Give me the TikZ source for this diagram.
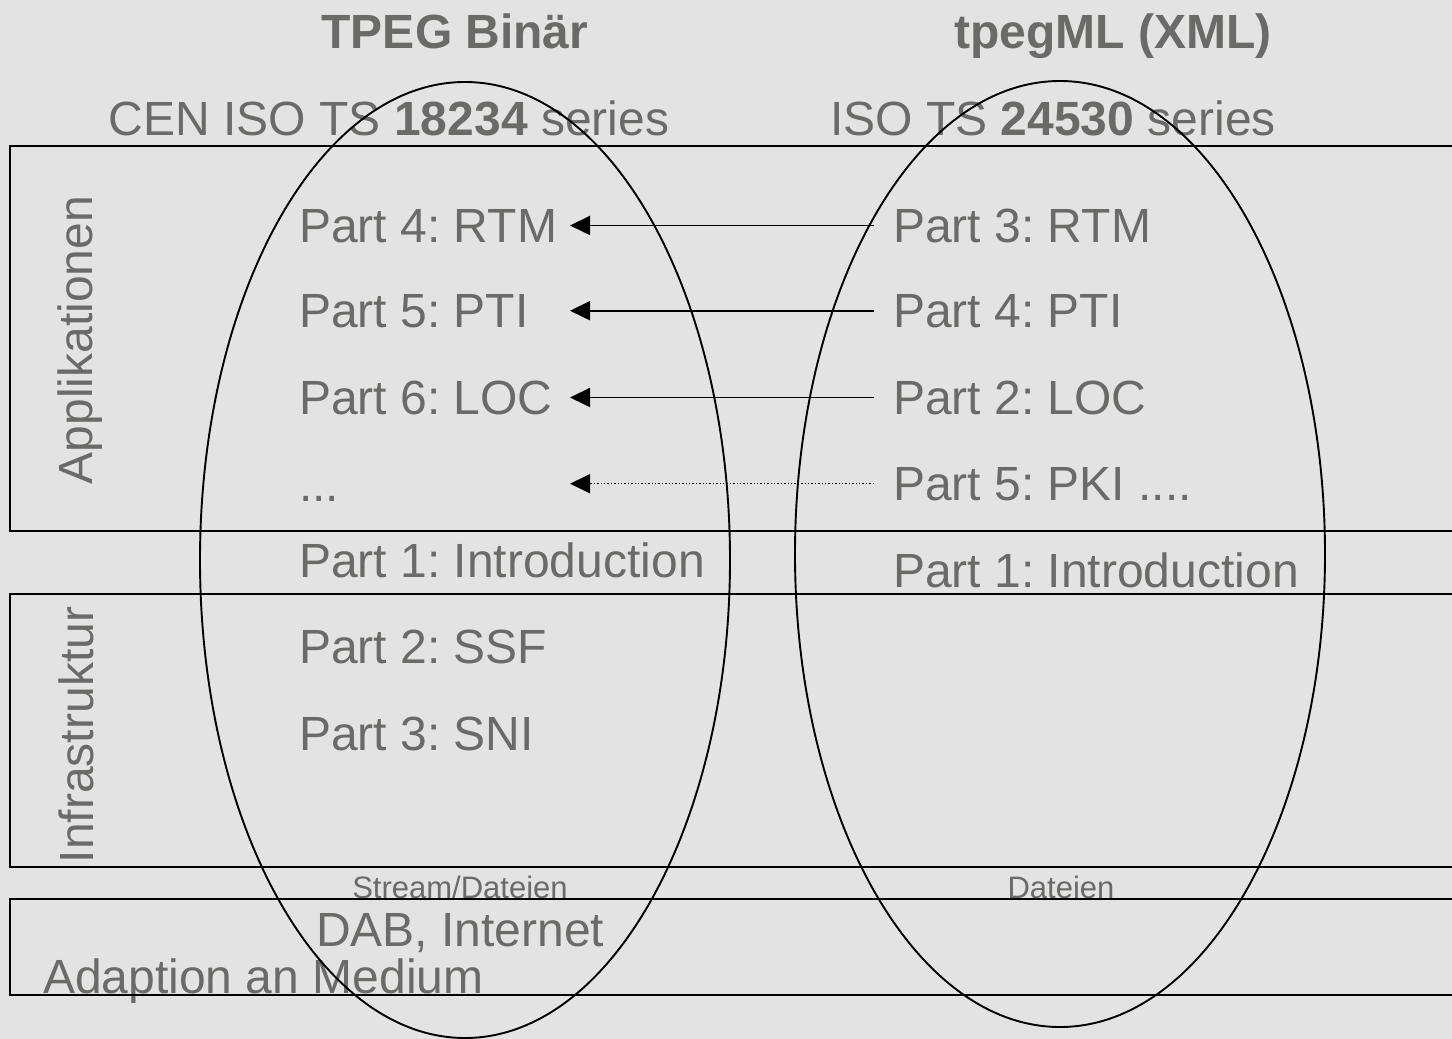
\documentclass[tikz,border=0pt]{standalone}
\usepackage{fontspec}
\setmainfont{Liberation Sans}
\usetikzlibrary{arrows.meta}
\definecolor{bggray}{RGB}{227,227,227}
\definecolor{txtgray}{RGB}{106,107,104}
\frenchspacing

\begin{document}
\begin{tikzpicture}[x=1pt,y=-1pt,
  every node/.style={inner sep=0pt,text=txtgray,font=\fontsize{48}{56}\selectfont},
  title/.style={font=\fontsize{48}{56}\selectfont\bfseries},
  small/.style={font=\fontsize{31}{36}\selectfont},
  rule/.style={black,line width=1.9pt},
  link/.style={black,line width=1.8pt,-{Triangle[length=20pt,width=19pt]}},
  dotlink/.style={link,line width=1.4pt,dash pattern=on 1.4pt off 2pt}]
\useasboundingbox (0,0) rectangle (1452,1039);
\fill[bggray] (0,0) rectangle (1452,1039);
% headings
\node[title,anchor=base] (bin) at (455,48) {TPEG Binär};
\node[title,anchor=base] (xml) at (1113,48) {tpegML (XML)};
\node[anchor=base] (cen) at (389,135) {CEN ISO TS \textbf{18234} series};
\node[anchor=base] (iso) at (1053,135) {ISO TS \textbf{24530} series};
% layer names
\node[rotate=90,anchor=base] (app) at (92,340) {Applikationen};
\node[rotate=90,anchor=base] (inf) at (93,735) {Infrastruktur};
% binary parts
\node[anchor=base west] (b4) at (299,242) {Part 4: RTM};
\node[anchor=base west] (b5) at (299,327) {Part 5: PTI};
\node[anchor=base west] (b6) at (299,414) {Part 6: LOC};
\node[anchor=base west] (bx) at (299,501) {...};
\node[anchor=base west] (b1) at (299,577) {Part 1: Introduction};
\node[anchor=base west] (b2) at (299,663) {Part 2: SSF};
\node[anchor=base west] (b3) at (299,750) {Part 3: SNI};
% xml parts
\node[anchor=base west] (x3) at (893,242) {Part 3: RTM};
\node[anchor=base west] (x4) at (893,327) {Part 4: PTI};
\node[anchor=base west] (x2) at (893,414) {Part 2: LOC};
\node[anchor=base west] (x5) at (893,500) {Part 5: PKI ....};
\node[anchor=base west] (x1) at (893,587) {Part 1: Introduction};
% transport
\node[small,anchor=base] (str) at (460,898) {Stream/Dateien};
\node[small,anchor=base] (dat) at (1061,898) {Dateien};
\node[anchor=base west] (dab) at (316,946) {DAB, Internet};
\node[anchor=base west] (med) at (43,993) {Adaption an Medium};
% layer boxes
\draw[rule] (1452,146) -| (10,531) -- (1452,531);
\draw[rule] (1452,594) -| (10,867) -- (1452,867);
\draw[rule] (1452,899) -| (10,995) -- (1452,995);
\draw[rule] (465,560) ellipse [x radius=265pt, y radius=478pt];
\draw[rule] (1060,554) ellipse [x radius=265pt, y radius=473pt];
% mappings
\coordinate (tip) at (570,0);
\draw[link] ([xshift=-19pt]x3.west) -- (x3.west -| tip);
\draw[link] ([xshift=-19pt]x4.west) -- (x4.west -| tip);
\draw[link] ([xshift=-19pt]x2.west) -- (x2.west -| tip);
\draw[dotlink] ([xshift=-19pt]x5.west) -- (x5.west -| tip);
\end{tikzpicture}
\end{document}
